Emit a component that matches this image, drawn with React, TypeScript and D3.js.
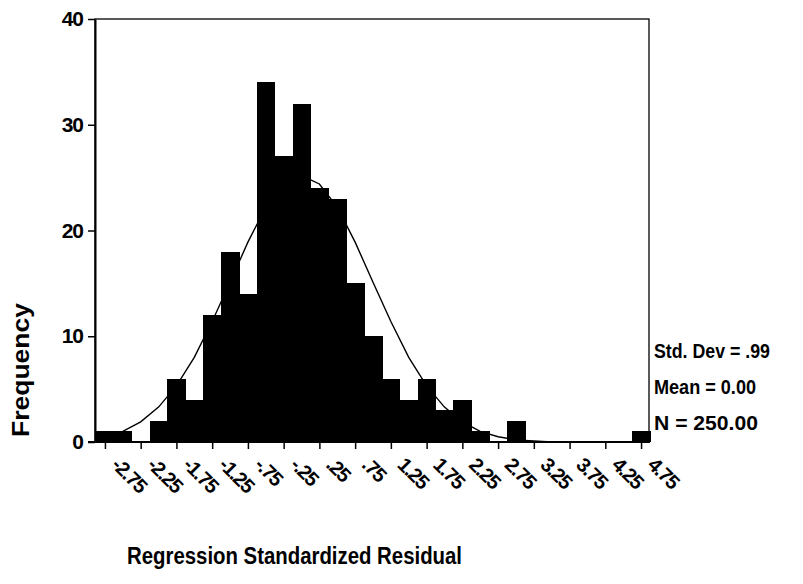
import React, { useEffect, useRef } from 'react'
import * as d3 from 'd3'

// histogram bins (width .25)
const binCenters = [
  -2.75, -2.5, -2.25, -2.0, -1.75, -1.5, -1.25, -1.0, -0.75, -0.5, -0.25, 0,
  0.25, 0.5, 0.75, 1.0, 1.25, 1.5, 1.75, 2.0, 2.25, 2.5, 2.75, 3.0, 3.25, 3.5,
  3.75, 4.0, 4.25, 4.5, 4.75,
]
const frequencies = [
  1, 1, 0, 2, 6, 4, 12, 18, 14, 34, 27, 32, 24, 23, 15, 10, 6, 4, 6, 3, 4, 1, 0,
  2, 0, 0, 0, 0, 0, 0, 1,
]
// normal curve overlay, estimated at each bin centre
const curveValues = [
  0.5, 1.0, 1.9, 3.3, 5.3, 8.0, 11.4, 15.1, 18.9, 22.2, 24.4, 25.2, 24.4, 22.2,
  18.9, 15.1, 11.4, 8.0, 5.3, 3.3, 1.9, 1.0, 0.5, 0.2, 0.1, 0, 0, 0, 0, 0, 0,
]
const xTickValues = [
  -2.75, -2.25, -1.75, -1.25, -0.75, -0.25, 0.25, 0.75, 1.25, 1.75, 2.25, 2.75,
  3.25, 3.75, 4.25, 4.75,
]
const xTickLabels = [
  '-2.75', '-2.25', '-1.75', '-1.25', '-.75', '-.25', '.25', '.75', '1.25',
  '1.75', '2.25', '2.75', '3.25', '3.75', '4.25', '4.75',
]
const yTickValues = [0, 10, 20, 30, 40]
const statLines = ['Std. Dev = .99', 'Mean = 0.00', 'N = 250.00']
const statWidths = [116, 102, 104]

const FONT = '"Liberation Sans", Arial, sans-serif'

function Histogram() {
  const ref = useRef<SVGSVGElement>(null)

  useEffect(() => {
    const svg = d3.select(ref.current)
    svg.selectAll('*').remove()

    const x = d3.scaleLinear().domain([-2.875, 4.875]).range([96, 650])
    const y = d3.scaleLinear().domain([0, 40]).range([442, 19])
    const binW = x(0.25) - x(0)

    // frame
    svg
      .append('rect')
      .attr('x', 95)
      .attr('y', 19)
      .attr('width', 554)
      .attr('height', y(0) - 19)
      .attr('fill', 'none')
      .attr('stroke', '#000')
      .attr('stroke-width', 1.3)

    // bars
    svg
      .append('g')
      .attr('shape-rendering', 'crispEdges')
      .selectAll('rect')
      .data(binCenters)
      .enter()
      .append('rect')
      .attr('x', d => x(d) - binW / 2)
      .attr('y', (d, i) => y(frequencies[i]))
      .attr('width', binW + 0.6)
      .attr('height', (d, i) => y(0) - y(frequencies[i]))
      .attr('fill', '#000')

    // normal curve
    const line = d3
      .line<number>()
      .x(d => x(d))
      .y((d, i) => y(curveValues[i]))
    svg
      .append('path')
      .attr('d', line(binCenters))
      .attr('fill', 'none')
      .attr('stroke', '#000')
      .attr('stroke-width', 1.4)

    // y axis
    const yAxis = svg
      .append('g')
      .attr('transform', 'translate(95,0)')
      .call(
        d3
          .axisLeft(y)
          .tickValues(yTickValues)
          .tickSize(7)
          .tickPadding(5)
          .tickSizeOuter(0)
      )
    yAxis.select('.domain').attr('stroke-width', 2)
    yAxis.selectAll('line').attr('stroke-width', 1.5)
    yAxis
      .selectAll('text')
      .attr('font-family', FONT)
      .attr('font-weight', 'bold')
      .attr('font-size', 21)
      .attr('letter-spacing', -1)
      .attr('fill', '#000')

    // x axis
    const xAxis = svg
      .append('g')
      .attr('transform', `translate(0,${y(0)})`)
      .call(
        d3
          .axisBottom(x)
          .tickValues(xTickValues)
          .tickSize(7)
          .tickSizeOuter(0)
          .tickFormat((d, i) => xTickLabels[i])
      )
    xAxis.select('.domain').attr('stroke-width', 2).attr('d', 'M88,0H650')
    xAxis.selectAll('line').attr('stroke-width', 1.5)
    xAxis
      .selectAll('text')
      .attr('font-family', FONT)
      .attr('font-weight', 'bold')
      .attr('font-size', 20)
      .attr('letter-spacing', -1.2)
      .attr('fill', '#000')
      .attr('text-anchor', 'start')
      .attr('dy', null)
      .attr('y', 0)
      .attr('transform', 'translate(5,24) rotate(45)')

    // axis titles
    svg
      .append('text')
      .attr('transform', 'translate(29,370) rotate(-90)')
      .attr('text-anchor', 'middle')
      .attr('font-family', FONT)
      .attr('font-weight', 'bold')
      .attr('font-size', 23)
      .attr('textLength', 134)
      .attr('lengthAdjust', 'spacingAndGlyphs')
      .text('Frequency')

    svg
      .append('text')
      .attr('x', 127)
      .attr('y', 564)
      .attr('font-family', FONT)
      .attr('font-weight', 'bold')
      .attr('font-size', 23)
      .attr('textLength', 335)
      .attr('lengthAdjust', 'spacingAndGlyphs')
      .text('Regression Standardized Residual')

    // summary stats
    svg
      .append('g')
      .selectAll('text')
      .data(statLines)
      .enter()
      .append('text')
      .attr('x', 654)
      .attr('y', (d, i) => 358 + i * 36)
      .attr('font-family', FONT)
      .attr('font-weight', 'bold')
      .attr('font-size', 20)
      .attr('textLength', (d, i) => statWidths[i])
      .attr('lengthAdjust', 'spacingAndGlyphs')
      .text(d => d)
  }, [])

  return (
    <svg
      ref={ref}
      width={803}
      height={584}
      style={{ position: 'absolute', left: 0, top: 0, background: '#fff' }}
    />
  )
}

export default function App() {
  return <Histogram />
}
